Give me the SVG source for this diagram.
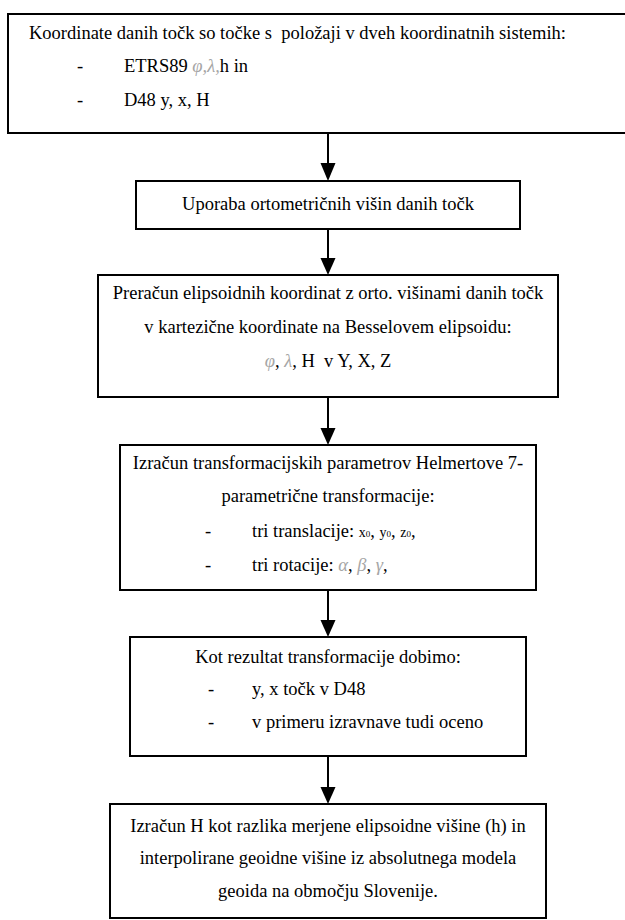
<svg xmlns="http://www.w3.org/2000/svg" width="625" height="920" viewBox="0 0 625 920">
<defs>
<style>
.box{fill:#fff;stroke:#000;stroke-width:2}
.t{font-family:"Liberation Serif","Times New Roman",serif;font-size:18.5px;fill:#000}
.c{text-anchor:middle}
.g{fill:#a6a6a6;font-style:italic}
.edge{stroke:#000;stroke-width:2;fill:none}
.head{fill:#000}
</style>
</defs>
<rect width="625" height="920" fill="#fff"/>
<g id="connectors">
<line class="edge" x1="328" y1="133" x2="328" y2="165"/>
<path class="head" d="M320.5,163 L335.5,163 L328,181 Z"/>
<line class="edge" x1="328" y1="229" x2="328" y2="260"/>
<path class="head" d="M320.5,258 L335.5,258 L328,275 Z"/>
<line class="edge" x1="328" y1="397" x2="328" y2="430"/>
<path class="head" d="M320.5,428 L335.5,428 L328,445 Z"/>
<line class="edge" x1="328" y1="590" x2="328" y2="622"/>
<path class="head" d="M320.5,620 L335.5,620 L328,637 Z"/>
<line class="edge" x1="328" y1="756" x2="328" y2="789"/>
<path class="head" d="M320.5,787 L335.5,787 L328,804 Z"/>
</g>
<g id="n1">
<rect class="box" x="8" y="14" width="640" height="119"/>
<text class="t" x="29" y="39" xml:space="preserve">Koordinate danih točk so točke s  položaji v dveh koordinatnih sistemih:</text>
<text class="t" x="77" y="72">-</text>
<text class="t" x="124" y="72">ETRS89 <tspan class="g">φ,λ,</tspan>h in</text>
<text class="t" x="77" y="106">-</text>
<text class="t" x="124" y="106">D48 y, x, H</text>
</g>
<g id="n2">
<rect class="box" x="136" y="181" width="384" height="48"/>
<text class="t c" x="328" y="210">Uporaba ortometričnih višin danih točk</text>
</g>
<g id="n3">
<rect class="box" x="98" y="275" width="460" height="122"/>
<text class="t c" x="328" y="299">Preračun elipsoidnih koordinat z orto. višinami danih točk</text>
<text class="t c" x="328" y="333">v kartezične koordinate na Besselovem elipsoidu:</text>
<text class="t c" x="328" y="367" xml:space="preserve"><tspan class="g">φ</tspan>, <tspan class="g">λ</tspan>, H  v Y, X, Z</text>
</g>
<g id="n4">
<rect class="box" x="120" y="445" width="416" height="145"/>
<text class="t c" x="328" y="469">Izračun transformacijskih parametrov Helmertove 7-</text>
<text class="t c" x="328" y="502">parametrične transformacije:</text>
<text class="t" x="205" y="537">-</text>
<text class="t" x="252" y="537">tri translacije: <tspan font-size="14">x</tspan><tspan font-size="9">0</tspan>, <tspan font-size="14">y</tspan><tspan font-size="9">0</tspan>, <tspan font-size="14">z</tspan><tspan font-size="9">0</tspan>,</text>
<text class="t" x="205" y="571">-</text>
<text class="t" x="252" y="571">tri rotacije: <tspan class="g">α</tspan>, <tspan class="g">β</tspan>, <tspan class="g">γ</tspan>,</text>
</g>
<g id="n5">
<rect class="box" x="130" y="637" width="396" height="119"/>
<text class="t c" x="328" y="663">Kot rezultat transformacije dobimo:</text>
<text class="t" x="208" y="695">-</text>
<text class="t" x="252" y="695">y, x točk v D48</text>
<text class="t" x="208" y="728">-</text>
<text class="t" x="252" y="728">v primeru izravnave tudi oceno</text>
</g>
<g id="n6">
<rect class="box" x="110" y="804" width="436" height="114"/>
<text class="t c" x="328" y="832">Izračun H kot razlika merjene elipsoidne višine (h) in</text>
<text class="t c" x="328" y="864">interpolirane geoidne višine iz absolutnega modela</text>
<text class="t c" x="328" y="897">geoida na območju Slovenije.</text>
</g>
</svg>
